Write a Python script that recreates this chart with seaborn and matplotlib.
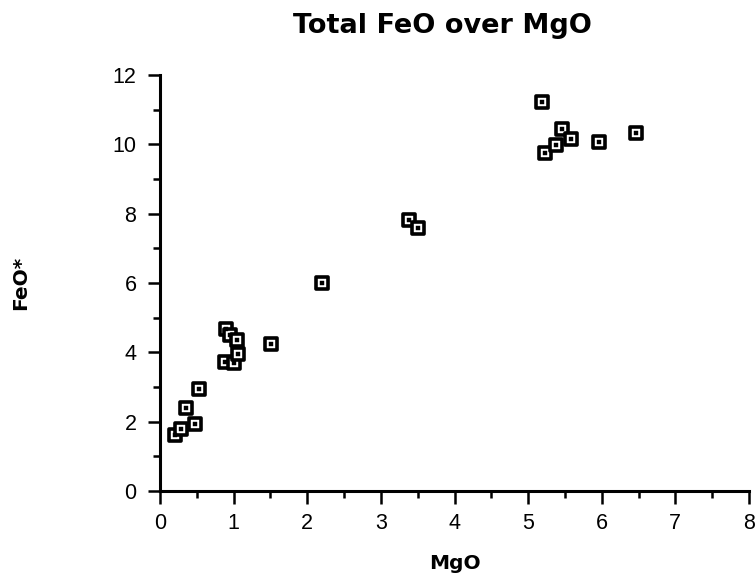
import matplotlib
matplotlib.use("Agg")
import matplotlib.pyplot as plt
import seaborn as sns
import pandas as pd
from matplotlib.ticker import MultipleLocator

mgo = [0.20, 0.29, 0.35, 0.47, 0.53, 0.88, 1.01, 1.06, 0.89, 0.95, 1.04, 1.51,
       2.20, 3.38, 3.51, 5.19, 5.23, 5.38, 5.46, 5.58, 5.96, 6.46]
feo = [1.61, 1.80, 2.38, 1.93, 2.93, 3.72, 3.69, 3.96, 4.68, 4.49, 4.37, 4.25,
       6.01, 7.83, 7.60, 11.22, 9.76, 9.99, 10.45, 10.16, 10.07, 10.33]

df = pd.DataFrame({"MgO": mgo, "FeO*": feo})

sns.set_style("ticks")
plt.rcParams["font.family"] = ["Liberation Sans", "DejaVu Sans"]
plt.rcParams["text.color"] = "black"
plt.rcParams["axes.labelcolor"] = "black"
plt.rcParams["xtick.color"] = "black"
plt.rcParams["ytick.color"] = "black"

fig = plt.figure(figsize=(7.56, 5.81), dpi=100)
# axes: x from 160px to 749px, y from 75px to 491px
ax = fig.add_axes([160 / 756, (581 - 491) / 581, 589 / 756, 416 / 581])

sns.scatterplot(data=df, x="MgO", y="FeO*", ax=ax, marker="s", s=85,
                facecolor="white", edgecolor="black", linewidth=2.6, zorder=3)
sns.scatterplot(data=df, x="MgO", y="FeO*", ax=ax, marker="s", s=5,
                color="black", edgecolor="black", linewidth=0.3, zorder=4)

ax.set_xlim(0, 8)
ax.set_ylim(0, 12)
ax.xaxis.set_major_locator(MultipleLocator(1))
ax.xaxis.set_minor_locator(MultipleLocator(0.5))
ax.yaxis.set_major_locator(MultipleLocator(2))
ax.yaxis.set_minor_locator(MultipleLocator(1))

for s in ["top", "right"]:
    ax.spines[s].set_visible(False)
for s in ["left", "bottom"]:
    ax.spines[s].set_linewidth(2.2)
    ax.spines[s].set_color("black")

ax.tick_params(which="major", direction="out", length=9, width=1.8, colors="black",
               labelsize=15.5, labelcolor="black")
ax.tick_params(which="minor", direction="out", length=5, width=1.8, colors="black")
ax.tick_params(axis="x", which="major", pad=7)
ax.tick_params(axis="y", which="major", pad=8)

lab_font = dict(family="DejaVu Sans", fontsize=14.5, fontweight="bold", color="black")
ax.set_xlabel("MgO", **lab_font)
ax.set_ylabel("FeO*", **lab_font)
ax.xaxis.set_label_coords(0.5, -0.152)
ax.yaxis.set_label_coords(-0.22, 0.5)
ax.set_title("Total FeO over MgO", family="DejaVu Sans", fontsize=19.5,
             fontweight="bold", color="black", x=0.48, pad=30)

fig.savefig("out.png", dpi=100)
